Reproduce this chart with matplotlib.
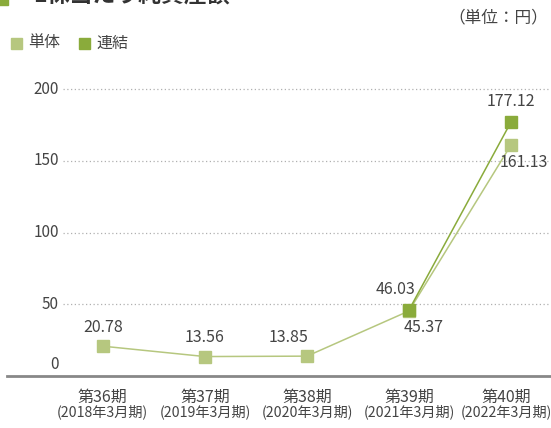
import matplotlib.pyplot as plt
from matplotlib.patches import Rectangle

plt.rcParams['font.family'] = ['Noto Sans CJK JP', 'DejaVu Sans']

periods = ['第36期', '第37期', '第38期', '第39期', '第40期']
fiscal = ['(2018年3月期)', '(2019年3月期)', '(2020年3月期)', '(2021年3月期)', '(2022年3月期)']
single = [20.78, 13.56, 13.85, 45.37, 161.13]
consol_idx = [3, 4]
consol = [46.03, 177.12]
yticks = [0, 50, 100, 150, 200]

# label offsets in pixels (dx, dy)
single_off = [(0, 19), (0, 19), (-18, 19), (15, -17), (13, -18)]
consol_off = [(-13, 20), (0, 21)]
cat_shift = [-1, 0, 0, 0, -5]

c_single = '#b6c77f'
c_consol = '#8aab3b'
c_text = '#444444'

W, H = 551, 428
fig = plt.figure(figsize=(W / 100, H / 100), dpi=100)

# axes: left 7px, right 551px, bottom 376px from top, top ~68px
ax_l, ax_r, ax_b, ax_t = 7, 551, 376, 67.7
ax = fig.add_axes([ax_l / W, 1 - ax_b / H, (ax_r - ax_l) / W, (ax_b - ax_t) / H])
x = list(range(len(periods)))
step = 102
ax.set_xlim(-(103 - ax_l) / step, 4 + (ax_r - 511) / step)
ax.set_ylim(0, 215)
for s in ['top', 'right', 'left']:
    ax.spines[s].set_visible(False)
ax.spines['bottom'].set_color('#888888')
ax.spines['bottom'].set_linewidth(2)
ax.set_xticks([])
ax.set_yticks([])

grid_x0 = -(103 - 63) / step
for v in yticks[1:]:
    ax.plot([grid_x0, ax.get_xlim()[1]], [v, v], ls=(0, (1, 2)), color='#b0b0b0', lw=0.9, zorder=1)
for v in yticks:
    ax.annotate(str(v), xy=(grid_x0, v), xytext=(-3, 8 if v == 0 else 0), textcoords='offset points',
                ha='right', va='center', fontsize=11, color=c_text)

ax.plot(x, single, color=c_single, lw=1.1, marker='s', ms=8.8, mec=c_single, mfc=c_single, zorder=3)
ax.plot(consol_idx, consol, color=c_consol, lw=1.1, marker='s', ms=8.8, mec=c_consol, mfc=c_consol, zorder=4)

for xi, v, (dx, dy) in zip(x, single, single_off):
    ax.annotate(f'{v:.2f}', xy=(xi, v), xytext=(dx * 0.72, dy * 0.72), textcoords='offset points',
                ha='center', va='center', fontsize=11.5, color=c_text, annotation_clip=False)
for xi, v, (dx, dy) in zip(consol_idx, consol, consol_off):
    ax.annotate(f'{v:.2f}', xy=(xi, v), xytext=(dx * 0.72, dy * 0.72), textcoords='offset points',
                ha='center', va='center', fontsize=11.5, color=c_text, annotation_clip=False)

for xi, p, f, sh in zip(x, periods, fiscal, cat_shift):
    ax.annotate(p, xy=(xi, 0), xytext=(sh * 0.72, -21 * 0.72), textcoords='offset points',
                ha='center', va='center', fontsize=11.5, color=c_text, annotation_clip=False)
    ax.annotate(f, xy=(xi, 0), xytext=(sh * 0.72, -36 * 0.72), textcoords='offset points',
                ha='center', va='center', fontsize=10.2, color=c_text, annotation_clip=False)

# title (cut off at top)
fig.patches.append(Rectangle((-4 / W, 1 - 5 / H), 12 / W, 14 / H, transform=fig.transFigure,
                             color=c_consol, zorder=5))
fig.text(33 / W, 1 - 3 / H, '1株当たり純資産額', ha='left', va='baseline', fontsize=16.5,
         fontweight='bold', color='#333333')

fig.text(548 / W, 1 - 18 / H, '（単位：円）', ha='right', va='center', fontsize=12, color=c_text)

# legend
for lx, label, col in [(11, '単体', c_single), (79, '連結', c_consol)]:
    fig.patches.append(Rectangle((lx / W, 1 - 49 / H), 11 / W, 11 / H, transform=fig.transFigure,
                                 color=col))
    fig.text((lx + 17) / W, 1 - 43 / H, label, ha='left', va='center', fontsize=11.5, color=c_text)

fig.savefig('out.png', dpi=100)
